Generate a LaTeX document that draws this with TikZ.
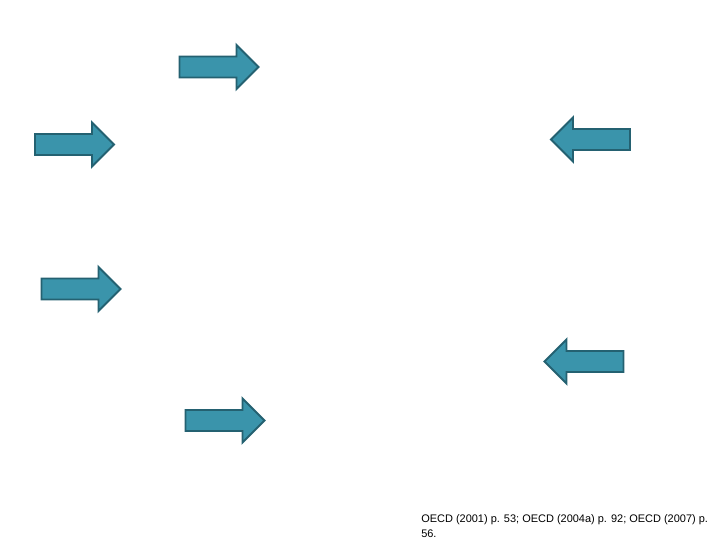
\documentclass[tikz,border=0pt]{standalone}
\usepackage{fontspec}
\setmainfont{Liberation Sans}
\definecolor{arrowfill}{RGB}{58,148,171}
\definecolor{arrowline}{RGB}{36,97,113}

\tikzset{
  arrowshape/.style={fill=arrowfill,draw=arrowline,line width=1.4pt,line join=miter},
  bigarrow/.pic={
    \path [arrowshape] (-39.5,-10.5) -- (17.5,-10.5) -- (17.5,-22) -- (39.5,0)
      -- (17.5,22) -- (17.5,10.5) -- (-39.5,10.5) -- cycle;
  }
}

\begin{document}
\begin{tikzpicture}[x=0.025cm,y=-0.025cm]
    \useasboundingbox (0,0) rectangle (720,540);

    % arrows pointing right
    \pic at (219,67) {bigarrow};
    \pic at (74.5,144.5) {bigarrow};
    \pic at (81,289) {bigarrow};
    \pic at (225,420.5) {bigarrow};

    % arrows pointing left
    \pic [xscale=-1] at (590.5,139.5) {bigarrow};
    \pic [xscale=-1] at (584,361.5) {bigarrow};

    \node [anchor=north west,align=left,inner sep=0pt,
      font=\fontsize{7.8}{10.6}\selectfont] (source) at (421,514)
      {OECD (2001) p. 53; OECD (2004a) p. 92; OECD (2007) p.\\56.};
  \end{tikzpicture}
\end{document}
